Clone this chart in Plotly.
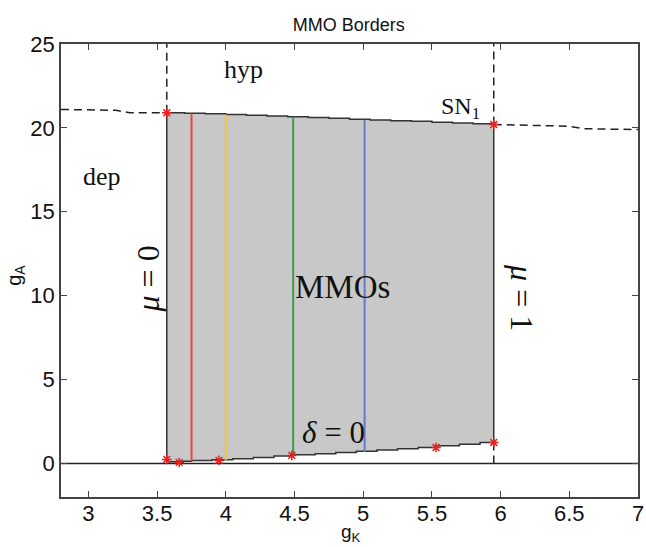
import numpy as np
import plotly.graph_objects as go

# Upper border of the MMO region (stair-stepped, close to SN1)
upper_gk = [3.57, 3.7, 3.85, 4.0, 4.15, 4.3, 4.45, 4.6, 4.75, 4.9, 5.05, 5.2, 5.35, 5.5, 5.65, 5.8, 5.95]
upper_ga = [20.9, 20.87, 20.84, 20.8, 20.76, 20.71, 20.66, 20.62, 20.57, 20.52, 20.47, 20.43, 20.39, 20.34, 20.29, 20.24, 20.2]

# Lower border of the MMO region (delta = 0)
lower_gk = [3.57, 3.65, 3.75, 3.9, 4.05, 4.2, 4.35, 4.48, 4.65, 4.8, 4.95, 5.1, 5.25, 5.4, 5.53, 5.7, 5.85, 5.95]
lower_ga = [0.15, 0.1, 0.13, 0.18, 0.22, 0.28, 0.36, 0.45, 0.52, 0.58, 0.65, 0.72, 0.8, 0.88, 0.95, 1.05, 1.15, 1.25]

# SN1 fold curve outside the region (dashed)
sn_left_gk = [2.8, 3.2, 3.3, 3.57]
sn_left_ga = [21.1, 21.05, 20.9, 20.9]
sn_right_gk = [5.95, 6.5, 6.6, 7.0]
sn_right_ga = [20.2, 20.1, 19.95, 19.9]

# mu = 0 and mu = 1 borders
mu0_gk = 3.57
mu1_gk = 5.95
ga_top = 25

# Sample slices through the region
slice_gk = [3.75, 4.0, 4.49, 5.01]
slice_colors = ["#e8473b", "#f3c43c", "#3e9a4f", "#6878c4"]

# Computed corner/intersection points
star_gk = [3.57, 5.95, 3.57, 3.66, 3.95, 4.48, 5.53, 5.95]
star_ga = [20.9, 20.2, 0.24, 0.06, 0.18, 0.48, 0.95, 1.25]

fig = go.Figure()

# Shaded MMO region
poly_x = upper_gk + lower_gk[::-1] + [upper_gk[0]]
poly_y = upper_ga + lower_ga[::-1] + [upper_ga[0]]
fig.add_trace(go.Scatter(x=poly_x, y=poly_y, mode="lines", fill="toself",
                         fillcolor="#c8c8c8", line=dict(color="#333333", width=1.5),
                         line_shape="hv", hoverinfo="skip"))

# Coloured slices from lower to upper border
for gk, col in zip(slice_gk, slice_colors):
    lo = float(np.interp(gk, lower_gk, lower_ga))
    hi = float(np.interp(gk, upper_gk, upper_ga))
    fig.add_trace(go.Scatter(x=[gk, gk], y=[lo, hi], mode="lines",
                             line=dict(color=col, width=2)))

# g_A = 0 line
fig.add_trace(go.Scatter(x=[2.8, 7.0], y=[0, 0], mode="lines",
                         line=dict(color="#222222", width=1.5)))

# Dashed borders
dash = dict(color="#222222", width=1.5, dash="8px,5px")
fig.add_trace(go.Scatter(x=sn_left_gk + [None] + sn_right_gk,
                         y=sn_left_ga + [None] + sn_right_ga,
                         mode="lines", line=dash))
fig.add_trace(go.Scatter(x=[mu0_gk, mu0_gk, None, mu1_gk, mu1_gk, None, mu1_gk, mu1_gk],
                         y=[upper_ga[0], ga_top, None, upper_ga[-1], ga_top, None, 0, lower_ga[-1]],
                         mode="lines", line=dash))

# Red asterisks
fig.add_trace(go.Scatter(x=star_gk, y=star_ga, mode="markers",
                         marker=dict(symbol="asterisk-open", size=8, color="#e82020",
                                     line=dict(color="#e82020", width=1.5))))

serif = "Liberation Serif, Times New Roman, serif"
labels = [
    (4.13, 23.5, "hyp", 26, 0),
    (3.1, 17.1, "dep", 26, 0),
    (5.71, 21.2, "SN<sub>1</sub>", 24, 0),
    (4.85, 10.5, "MMOs", 33, 0),
]
for x, y, t, s, a in labels:
    fig.add_annotation(x=x, y=y, text=t, showarrow=False,
                       font=dict(family=serif, size=s, color="#111111"))
fig.add_annotation(x=3.43, y=11.0, text="<i>μ</i> = 0", showarrow=False, textangle=-90,
                   font=dict(family=serif, size=32, color="#111111"))
fig.add_annotation(x=6.15, y=9.9, text="<i>μ</i> = 1", showarrow=False, textangle=90,
                   font=dict(family=serif, size=32, color="#111111"))
fig.add_annotation(x=4.78, y=1.85, text="<i>δ</i> = 0", showarrow=False,
                   font=dict(family=serif, size=31, color="#111111"))

sans = "Liberation Sans, Arial, sans-serif"

# Axis titles placed below / left of the frame
fig.add_annotation(x=0.503, y=-0.079, xref="paper", yref="paper", yanchor="middle",
                   text="g<sub>K</sub>", showarrow=False,
                   font=dict(family=sans, size=19, color="#111111"))
fig.add_annotation(x=-0.08, y=0.49, xref="paper", yref="paper", xanchor="center",
                   text="g<sub>A</sub>", showarrow=False, textangle=-90,
                   font=dict(family=sans, size=20, color="#111111"))

axis_common = dict(showline=True, linecolor="#444444", linewidth=1.5, mirror="ticks",
                   ticks="inside", ticklen=6, tickcolor="#444444", showgrid=False,
                   zeroline=False, automargin=False,
                   tickfont=dict(family=sans, size=22, color="#111111"))

fig.update_layout(
    width=646, height=547,
    margin=dict(l=61, r=8, t=44, b=50),
    plot_bgcolor="white", paper_bgcolor="white",
    showlegend=False,
    title=dict(text="MMO Borders", x=0.54, xanchor="center", y=0.955, yanchor="middle",
               font=dict(family=sans, size=18, color="#111111")),
    xaxis=dict(range=[2.8, 7.0], tickvals=[3, 3.5, 4, 4.5, 5, 5.5, 6, 6.5, 7],
               ticktext=["3", "3.5", "4", "4.5", "5", "5.5", "6", "6.5", "7"],
               ticklabelstandoff=-4,
               **axis_common),
    yaxis=dict(range=[-2, 25], tickvals=[0, 5, 10, 15, 20, 25],
               **axis_common),
)

fig.write_html("out.html")
